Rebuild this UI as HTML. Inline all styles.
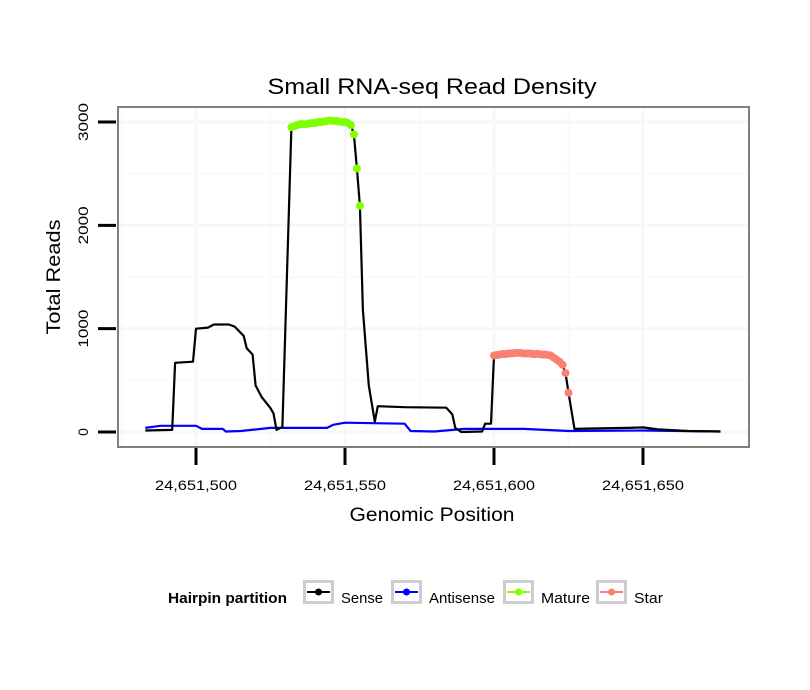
<!DOCTYPE html>
<html><head><meta charset="utf-8"><style>
html,body{margin:0;padding:0;background:#fff}
svg{display:block;font-family:"Liberation Sans",sans-serif}
</style></head><body>
<svg id="c" width="810" height="690" xmlns="http://www.w3.org/2000/svg">
<defs><clipPath id="pc"><rect x="118" y="107" width="631" height="340"/></clipPath></defs>
<rect width="810" height="690" fill="#fff"/>
<text x="432" y="94" font-size="22" text-anchor="middle" textLength="329" lengthAdjust="spacingAndGlyphs">Small RNA-seq Read Density</text>
<g id="grid" clip-path="url(#pc)"></g>
<g id="marks"></g>
<rect x="118" y="107" width="631" height="340" fill="none" stroke="#808080" stroke-width="2"/>
<g id="axes"></g>
<text x="432" y="521" font-size="19" text-anchor="middle" textLength="165" lengthAdjust="spacingAndGlyphs">Genomic Position</text>
<text transform="translate(60,277) rotate(-90)" font-size="19" text-anchor="middle" textLength="115" lengthAdjust="spacingAndGlyphs">Total Reads</text>
<g id="legend">
<text x="168" y="603" font-size="15" font-weight="bold" textLength="119" lengthAdjust="spacingAndGlyphs">Hairpin partition</text>
</g>
</svg>
<script>
const basePos = 24651500;
const xTicks = [0, 50, 100, 150];
const xTickLabels = ["24,651,500", "24,651,550", "24,651,600", "24,651,650"];
const yTicks = [0, 1000, 2000, 3000];
const yTickLabels = ["0", "1000", "2000", "3000"];
const sensePos = [-17,-8,-7,-1,0,4,6,11,13,16,17,19,20,22,25,26,27,29,32,33,35,38,41,44,47,50,51,52,53,54,55,56,58,60,61,70,84,86,87,89,96,97,99,100,103,106,110,114,118,119,120,121,122,123,124,125,127,135,145,150,155,165,176];
const senseVal = [15,20,670,680,1000,1010,1040,1040,1020,930,810,750,450,340,230,180,20,50,2950,2970,2980,2990,3000,3010,3010,3000,2990,2970,2880,2550,2190,1180,450,100,250,240,235,170,40,0,5,80,80,740,755,760,765,760,755,750,740,720,690,650,570,380,30,35,40,45,25,10,5];
const antiPos = [-17,-12,0,2,9,10,15,25,44,46,50,70,72,80,90,110,125,150,176];
const antiVal = [40,60,60,30,30,5,10,40,40,70,90,80,10,5,30,30,10,15,5];
const maturePos = [32,33,34,35,36,37,38,39,40,41,42,43,44,45,46,47,48,49,50,51,52,53,54,55];
const matureVal = [2950,2960,2970,2980,2980,2980,2985,2990,2990,3000,3000,3005,3010,3015,3010,3010,3005,3000,3000,2990,2970,2880,2550,2190];
const starPos = [100,101,102,103,104,105,106,107,108,109,110,111,112,113,114,115,116,117,118,119,120,121,122,123,124,125];
const starVal = [740,745,750,755,755,760,760,765,765,765,760,760,760,755,755,755,750,750,745,740,720,700,680,650,570,380];

const NS = "http://www.w3.org/2000/svg";
const xs = p => 196 + p * 2.98;
const ys = v => 432 - v * 0.10333;
function mk(tag, attrs, parent){const e=document.createElementNS(NS,tag);for(const k in attrs)e.setAttribute(k,attrs[k]);parent.appendChild(e);return e;}
const grid=document.getElementById('grid'), marks=document.getElementById('marks'), axes=document.getElementById('axes'), legend=document.getElementById('legend');

for (let i=0;i<xTicks.length;i++){
  const minor = mk('line',{x1:xs(xTicks[i]-25),x2:xs(xTicks[i]-25),y1:107,y2:447,stroke:'#fafafa','stroke-width':2},grid);
  
  
  const g = mk('line',{x1:xs(xTicks[i]),x2:xs(xTicks[i]),y1:107,y2:447,stroke:'#f7f7f7','stroke-width':3},grid);
  
  
  const t = mk('line',{x1:xs(xTicks[i]),x2:xs(xTicks[i]),y1:448,y2:465,stroke:'#000','stroke-width':3},axes);
  
  
  const l = mk('text',{x:xs(xTicks[i]),y:490,'font-size':14,'text-anchor':'middle',textLength:82,lengthAdjust:'spacingAndGlyphs'},axes);
  l.textContent = xTickLabels[i];
  
  
}
for (let i=0;i<yTicks.length;i++){
  const minor = mk('line',{x1:118,x2:749,y1:ys(yTicks[i]+500),y2:ys(yTicks[i]+500),stroke:'#fafafa','stroke-width':2},grid);
  
  
  const g = mk('line',{x1:118,x2:749,y1:ys(yTicks[i]),y2:ys(yTicks[i]),stroke:'#f7f7f7','stroke-width':3},grid);
  
  
  const t = mk('line',{x1:98,x2:116,y1:ys(yTicks[i]),y2:ys(yTicks[i]),stroke:'#000','stroke-width':3},axes);
  
  
  const attrs = {transform:`translate(88,${ys(yTicks[i])}) rotate(-90)`,'font-size':14,'text-anchor':'middle'};
  if (yTickLabels[i].length > 1) { attrs.textLength = 38; attrs.lengthAdjust = 'spacingAndGlyphs'; }
  const l = mk('text',attrs,axes);
  l.textContent = yTickLabels[i];
  
  
}
function line(px,vals,color,name){
  const d = px.map((p,i)=>(i?'L':'M')+xs(p).toFixed(1)+','+ys(vals[i]).toFixed(1)).join('');
  const e = mk('path',{d:d,fill:'none',stroke:color,'stroke-width':2.2,'stroke-linejoin':'round'},marks);
  
  
}
function dots(px,vals,color,name){
  for(let i=0;i<px.length;i++){
    const c = mk('circle',{cx:xs(px[i]),cy:ys(vals[i]),r:4,fill:color},marks);
    
    
  }
}
line(antiPos,antiVal,'#0000ff','antisense-line');
line(sensePos,senseVal,'#000','sense-line');
dots(maturePos,matureVal,'#7fff00','mature-point');
dots(starPos,starVal,'#fa8072','star-point');

const legItems=[["Sense","#000",303,42],["Antisense","#0000ff",391,66],["Mature","#7fff00",503,49],["Star","#fa8072",596,29]];
legItems.forEach(it=>{
  const g = mk('g',{},legend);
  
  
  mk('rect',{x:it[2]+1.5,y:581.5,width:28,height:21,fill:'#fff',stroke:'#cccccc','stroke-width':3},g);
  mk('line',{x1:it[2]+4,x2:it[2]+27,y1:592,y2:592,stroke:it[1],'stroke-width':2},g);
  mk('circle',{cx:it[2]+15.5,cy:592,r:3.5,fill:it[1]},g);
  const t = mk('text',{x:it[2]+38,y:603,'font-size':15,textLength:it[3],lengthAdjust:'spacingAndGlyphs'},g);
  t.textContent = it[0];
});
</script>
</body></html>
